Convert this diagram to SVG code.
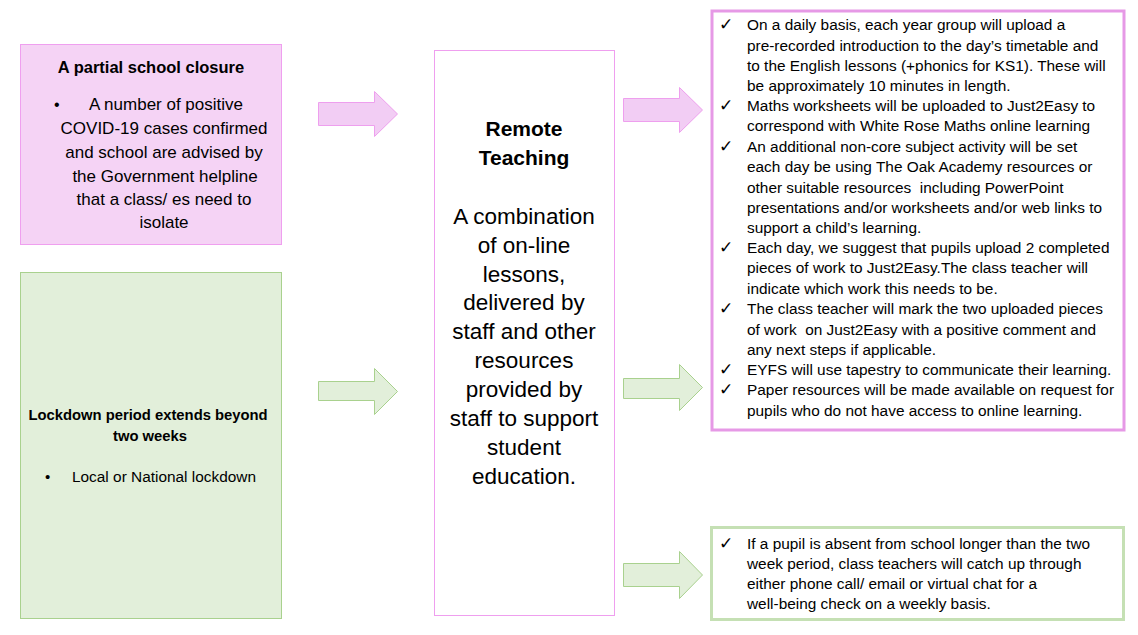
<svg xmlns="http://www.w3.org/2000/svg" width="1138" height="635" viewBox="0 0 1138 635">
<style>
text{font-family:"Liberation Sans",Arial,sans-serif;fill:#000;white-space:pre}
.b{font-weight:bold}
.c{text-anchor:middle}
.pk{fill:#f5d3f5;stroke:#ef9fef;stroke-width:1}
.gr{fill:#e2efda;stroke:#a9d18e;stroke-width:1}
.pa{fill:#f2cdf4;stroke:#ee9fee;stroke-width:1}
.ga{fill:#e2efda;stroke:#a9d18e;stroke-width:1}
.ck{font-family:"DejaVu Sans",sans-serif;font-size:17px}
.r{font-size:15.4px}
</style>
<rect width="1138" height="635" fill="#fff"/>
<g id="partial-closure">
<rect class="pk" x="20.5" y="44.5" width="261" height="200"/>
<text class="b c" x="151" y="73" font-size="16.5">A partial school closure</text>
<text x="54" y="110" font-size="16">•</text>
<g class="c" font-size="17">
<text x="166" y="110">A number of positive</text>
<text x="164" y="134">COVID-19 cases confirmed</text>
<text x="164" y="158">and school are advised by</text>
<text x="165" y="182">the Government helpline</text>
<text x="164" y="205">that a class/ es need to</text>
<text x="164" y="228">isolate</text>
</g>
</g>
<g id="lockdown">
<rect class="gr" x="20.5" y="272.5" width="261" height="346"/>
<text class="b c" x="148" y="420" font-size="14.8">Lockdown period extends beyond</text>
<text class="b c" x="150" y="441" font-size="14.8">two weeks</text>
<text x="45" y="482" font-size="15">•</text>
<text x="72" y="482" font-size="15.4">Local or National lockdown</text>
</g>
<g id="remote-teaching">
<rect x="434.5" y="50.5" width="180" height="565" fill="#fff" stroke="#ef9fef"/>
<text class="b c" x="524" y="136" font-size="21">Remote</text>
<text class="b c" x="524" y="165" font-size="21">Teaching</text>
<g class="c" font-size="22.5">
<text x="524" y="224">A combination</text>
<text x="524" y="253">of on-line</text>
<text x="524" y="282">lessons,</text>
<text x="524" y="310">delivered by</text>
<text x="524" y="339">staff and other</text>
<text x="524" y="368">resources</text>
<text x="524" y="397">provided by</text>
<text x="524" y="426">staff to support</text>
<text x="524" y="455">student</text>
<text x="524" y="484">education.</text>
</g>
</g>
<g id="remote-actions">
<rect x="712" y="11" width="412" height="419" fill="#fff" stroke="#e699e6" stroke-width="3"/>
<g class="ck">
<text x="719" y="30">✓</text>
<text x="719" y="111">✓</text>
<text x="719" y="152">✓</text>
<text x="719" y="253">✓</text>
<text x="719" y="314">✓</text>
<text x="719" y="375">✓</text>
<text x="719" y="395">✓</text>
</g>
<g class="r">
<text x="747" y="30">On a daily basis, each year group will upload a</text>
<text x="747" y="51">pre-recorded introduction to the day’s timetable and</text>
<text x="747" y="71">to the English lessons (+phonics for KS1). These will</text>
<text x="747" y="91">be approximately 10 minutes in length.</text>
<text x="747" y="111">Maths worksheets will be uploaded to Just2Easy to</text>
<text x="747" y="131">correspond with White Rose Maths online learning</text>
<text x="747" y="152">An additional non-core subject activity will be set</text>
<text x="747" y="172">each day be using The Oak Academy resources or</text>
<text x="747" y="193">other suitable resources  including PowerPoint</text>
<text x="747" y="213">presentations and/or worksheets and/or web links to</text>
<text x="747" y="233">support a child’s learning.</text>
<text x="747" y="253">Each day, we suggest that pupils upload 2 completed</text>
<text x="747" y="273">pieces of work to Just2Easy.The class teacher will</text>
<text x="747" y="294">indicate which work this needs to be.</text>
<text x="747" y="314">The class teacher will mark the two uploaded pieces</text>
<text x="747" y="335">of work  on Just2Easy with a positive comment and</text>
<text x="747" y="355">any next steps if applicable.</text>
<text x="747" y="375">EYFS will use tapestry to communicate their learning.</text>
<text x="747" y="395">Paper resources will be made available on request for</text>
<text x="747" y="416">pupils who do not have access to online learning.</text>
</g>
</g>
<g id="absence-check">
<rect x="711.5" y="527.5" width="412" height="92" fill="#fff" stroke="#c5e0b4" stroke-width="3"/>
<text class="ck" x="719" y="549">✓</text>
<g class="r">
<text x="747" y="549">If a pupil is absent from school longer than the two</text>
<text x="747" y="569">week period, class teachers will catch up through</text>
<text x="747" y="589">either phone call/ email or virtual chat for a</text>
<text x="747" y="609">well-being check on a weekly basis.</text>
</g>
</g>
<g id="connectors">
<polygon class="pa" points="318.5,102.5 374.5,102.5 374.5,91.5 397.5,114 374.5,136.5 374.5,125.5 318.5,125.5"/>
<polygon class="pa" points="623.5,98.5 679.5,98.5 679.5,87.5 702.5,110 679.5,132.5 679.5,121.5 623.5,121.5"/>
<polygon class="ga" points="318.5,381.5 374.5,381.5 374.5,368.5 397.5,391.5 374.5,414.5 374.5,400.5 318.5,400.5"/>
<polygon class="ga" points="623.5,378.5 679.5,378.5 679.5,364.5 702.5,387.5 679.5,410.5 679.5,398.5 623.5,398.5"/>
<polygon class="ga" points="623.5,563.5 679.5,563.5 679.5,551.5 702.5,575 679.5,598.5 679.5,586.5 623.5,586.5"/>
</g>
</svg>
